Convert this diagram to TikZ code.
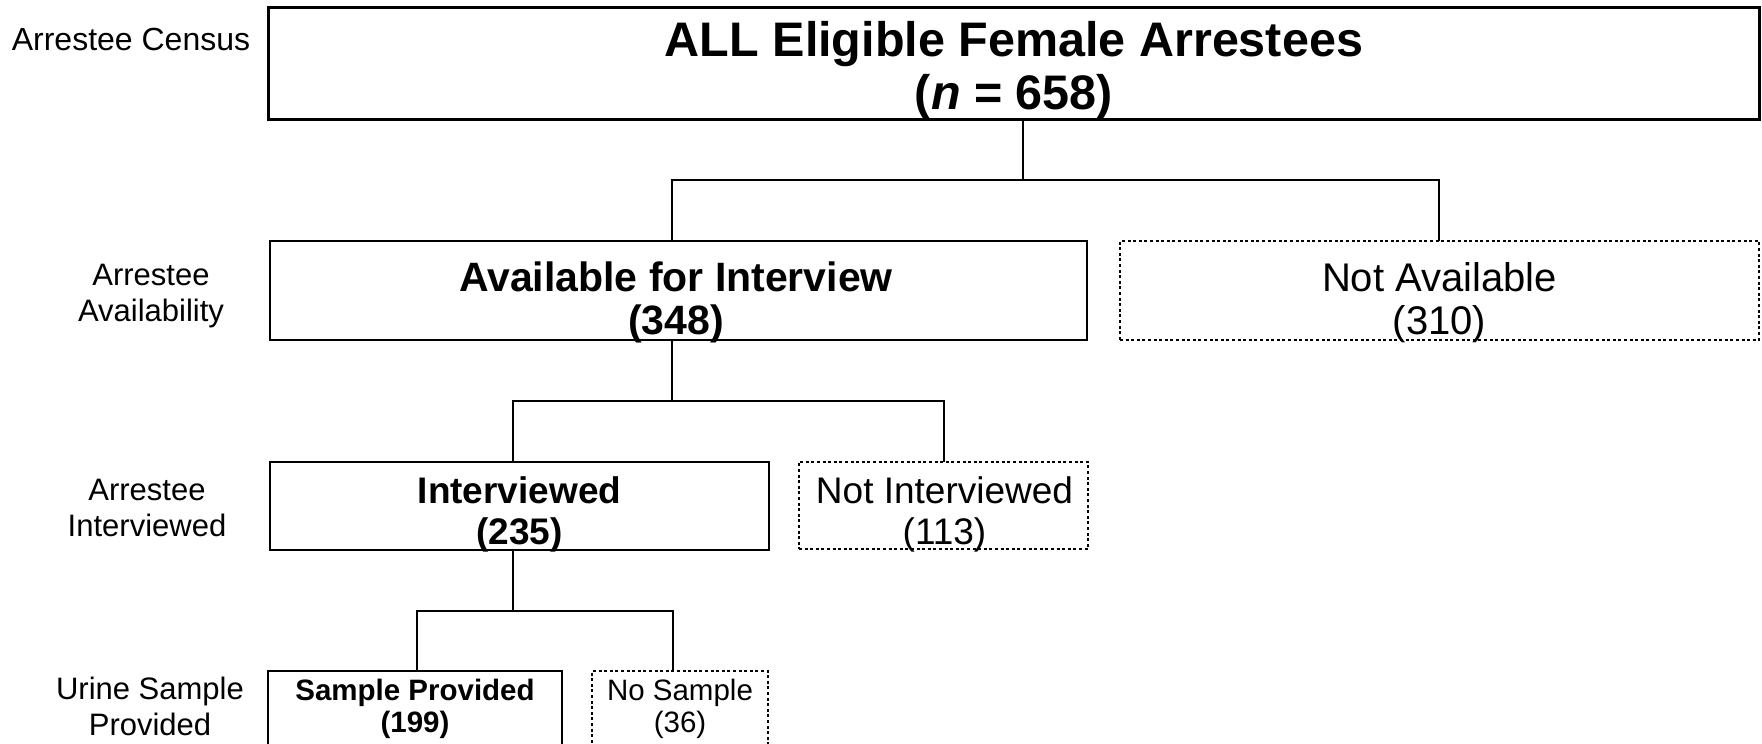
\documentclass[tikz,border=0pt]{standalone}
\usepackage{fontspec}
\setmainfont{Liberation Sans}
\begin{document}
\begin{tikzpicture}[x=1pt,y=-1pt,
  box/.style={draw, rectangle, inner sep=0pt, outer sep=0pt},
  boxthick/.style={box, line width=3pt},
  boxmid/.style={box, line width=2.5pt},
  boxthin/.style={box, line width=1.5pt},
  boxdot/.style={box, line width=2.3pt, dash pattern=on 3pt off 2.6pt},
  conthin/.style={line width=1.5pt},
  conthick/.style={line width=2.5pt},
  txt/.style={anchor=base, inner sep=0pt},
  lbl/.style={align=center, inner sep=0pt, font=\fontsize{31}{36}\selectfont}
]
\clip (0,0) rectangle (1762,744);
\fill[white] (0,0) rectangle (1762,744);

% boxes
\node[boxthick, minimum width=1491pt, minimum height=112pt] (top) at (1013.5,63) {};
\node[boxthin, minimum width=817pt, minimum height=99pt] (avail) at (678.5,290.5) {};
\node[boxdot, minimum width=639pt, minimum height=99pt] (navail) at (1439.5,290.5) {};
\node[boxmid, minimum width=499pt, minimum height=88pt] (intv) at (519.5,506) {};
\node[boxdot, minimum width=289pt, minimum height=87pt] (nintv) at (943.5,505.5) {};
\node[boxmid, minimum width=294pt, minimum height=100pt] (samp) at (415,721) {};
\node[boxdot, minimum width=176pt, minimum height=100pt] (nsamp) at (680,721) {};

% texts in boxes
\node[txt, font=\fontsize{48.5}{54}\selectfont\bfseries] (t1a) at (1014,56) {ALL Eligible Female Arrestees};
\node[txt, font=\fontsize{48.5}{54}\selectfont\bfseries] (t1b) at (1014,109) {(\textit{n} = 658)};
\node[txt, font=\fontsize{41}{47}\selectfont\bfseries] (t2a) at (676,291) {Available for Interview};
\node[txt, font=\fontsize{41}{47}\selectfont\bfseries] (t2b) at (676,334) {(348)};
\node[txt, font=\fontsize{40}{46}\selectfont] (t3a) at (1439.5,291) {Not Available};
\node[txt, font=\fontsize{40}{46}\selectfont] (t3b) at (1439.5,334) {(310)};
\node[txt, font=\fontsize{37}{42}\selectfont\bfseries] (t4a) at (519.5,503) {Interviewed};
\node[txt, font=\fontsize{37}{42}\selectfont\bfseries] (t4b) at (519.5,544) {(235)};
\node[txt, font=\fontsize{37}{42}\selectfont] (t5a) at (944.5,503) {Not Interviewed};
\node[txt, font=\fontsize{37}{42}\selectfont] (t5b) at (944.5,544) {(113)};
\node[txt, font=\fontsize{29.5}{33}\selectfont\bfseries] (t6a) at (415,700) {Sample Provided};
\node[txt, font=\fontsize{29.5}{33}\selectfont\bfseries] (t6b) at (415,732) {(199)};
\node[txt, font=\fontsize{29.5}{33}\selectfont] (t7a) at (680,700) {No Sample};
\node[txt, font=\fontsize{29.5}{33}\selectfont] (t7b) at (680,732) {(36)};

% row labels
\node[lbl, font=\fontsize{32}{36}\selectfont] (lcensus) at (131,39) {Arrestee Census};
\node[lbl] (lavail) at (151,296) {Arrestee\\Availability};
\node[lbl] (lintv) at (147,508) {Arrestee\\Interviewed};
\node[lbl] (lsamp) at (150,706) {Urine Sample\\Provided};

% connector coordinates
\coordinate (j1) at (1023,180);
\coordinate (d1) at (672,0);
\coordinate (d2) at (1439,0);
\coordinate (j2) at (672,401);
\coordinate (d3) at (513,0);
\coordinate (d4) at (944,0);
\coordinate (j3) at (513,611);
\coordinate (d5) at (417,0);
\coordinate (d6) at (673,0);

% connectors
\draw[conthin] (top.south -| j1) -- (j1);
\draw[conthin] (avail.north -| d1) |- (j1) -| (navail.north -| d2);
\draw[conthin] (avail.south -| j2) -- (j2);
\draw[conthin] (intv.north -| d3) |- (j2) -| (nintv.north -| d4);
\draw[conthick] (intv.south -| j3) -- (j3);
\draw[conthick] (samp.north -| d5) |- (j3) -| (nsamp.north -| d6);
\end{tikzpicture}
\end{document}
